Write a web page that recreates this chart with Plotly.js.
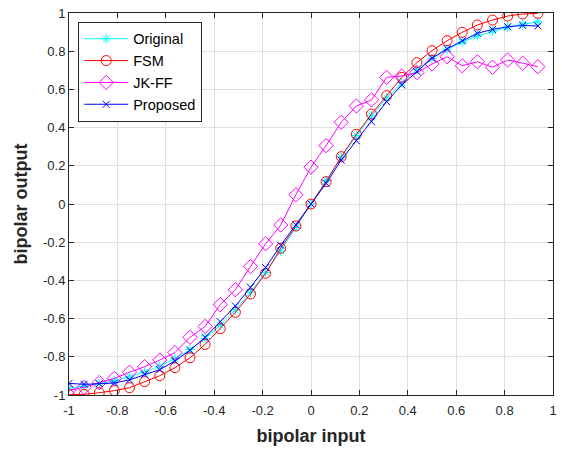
<!DOCTYPE html>
<html>
<head>
<meta charset="utf-8">
<script src="https://cdn.plot.ly/plotly-3.0.1.min.js"></script>
<style>html,body{margin:0;padding:0;background:#fff;}#chart{width:562px;height:449px;}</style>
</head>
<body>
<div id="chart"></div>
<script>
const xInput = [-1, -0.9375, -0.875, -0.8125, -0.75, -0.6875, -0.625, -0.5625, -0.5, -0.4375, -0.375, -0.3125, -0.25, -0.1875, -0.125, -0.0625,
  0, 0.0625, 0.125, 0.1875, 0.25, 0.3125, 0.375, 0.4375, 0.5, 0.5625, 0.625, 0.6875, 0.75, 0.8125, 0.875, 0.9375];

const original = [-0.964, -0.954, -0.941, -0.926, -0.905, -0.880, -0.848, -0.810, -0.762, -0.704, -0.635, -0.555, -0.462, -0.358, -0.245, -0.124,
  0, 0.124, 0.245, 0.358, 0.462, 0.555, 0.635, 0.704, 0.762, 0.810, 0.848, 0.880, 0.905, 0.926, 0.941, 0.954];

const fsm = [-0.998, -0.997, -0.988, -0.977, -0.962, -0.930, -0.899, -0.857, -0.805, -0.735, -0.653, -0.567, -0.471, -0.363, -0.232, -0.115,
  0, 0.117, 0.248, 0.365, 0.471, 0.567, 0.663, 0.740, 0.803, 0.855, 0.899, 0.937, 0.963, 0.984, 0.995, 0.998];

const jkff = [-0.975, -0.960, -0.935, -0.913, -0.881, -0.852, -0.817, -0.778, -0.698, -0.641, -0.527, -0.449, -0.327, -0.208, -0.110, 0.048,
  0.193, 0.306, 0.428, 0.513, 0.545, 0.663, 0.670, 0.688, 0.733, 0.771, 0.724, 0.745, 0.716, 0.754, 0.737, 0.719];

const proposed = [-0.939, -0.944, -0.941, -0.937, -0.921, -0.892, -0.867, -0.822, -0.766, -0.698, -0.616, -0.534, -0.436, -0.333, -0.216, -0.110,
  0, 0.108, 0.230, 0.331, 0.431, 0.536, 0.623, 0.693, 0.763, 0.813, 0.855, 0.894, 0.914, 0.928, 0.935, 0.932];

const tickVals = [-1, -0.8, -0.6, -0.4, -0.2, 0, 0.2, 0.4, 0.6, 0.8, 1];
const tickText = ['-1', '-0.8', '-0.6', '-0.4', '-0.2', '0', '0.2', '0.4', '0.6', '0.8', '1'];

const font = 'Arial, "Liberation Sans", Helvetica, sans-serif';

function mk(name, y, color, symbol, size) {
  return {
    x: xInput, y: y, name: name, type: 'scatter', mode: 'lines+markers',
    line: {color: color, width: 1},
    marker: {symbol: symbol, size: size, color: color, line: {color: color, width: 1}}
  };
}

const data = [
  mk('Original', original, '#00FFFF', 'asterisk-open', 8),
  mk('FSM', fsm, '#FF0000', 'circle-open', 10),
  mk('JK-FF', jkff, '#FF00FF', 'diamond-open', 11),
  mk('Proposed', proposed, '#0000FF', 'x-thin-open', 7)
];

const axisCommon = {
  range: [-1, 1], tickvals: tickVals, ticktext: tickText,
  showgrid: true, gridcolor: '#DFDFDF', gridwidth: 1,
  zeroline: false, showline: true, linecolor: '#262626', linewidth: 1, mirror: 'ticks',
  ticks: 'inside', ticklen: 5, tickcolor: '#262626',
  tickfont: {family: font, size: 13, color: '#262626'}
};

const layout = {
  width: 562, height: 449,
  margin: {l: 69, r: 9, t: 13, b: 54},
  paper_bgcolor: '#fff', plot_bgcolor: '#fff',
  showlegend: true,
  xaxis: Object.assign({}, axisCommon, {
    ticklabelstandoff: 3,
    title: {text: '<b>bipolar input</b>', font: {family: font, size: 18, color: '#262626'}, standoff: 12}
  }),
  yaxis: Object.assign({}, axisCommon, {
    title: {text: '<b>bipolar output</b>', font: {family: font, size: 18, color: '#262626'}, standoff: 10}
  }),
  legend: {
    x: 0.019, y: 0.977, xanchor: 'left', yanchor: 'top',
    bgcolor: '#fff', bordercolor: '#262626', borderwidth: 1,
    font: {family: font, size: 14.5, color: '#000'},
    itemwidth: 44, tracegroupgap: 0
  }
};

Plotly.newPlot('chart', data, layout, {displayModeBar: false, staticPlot: true});
</script>
</body>
</html>
